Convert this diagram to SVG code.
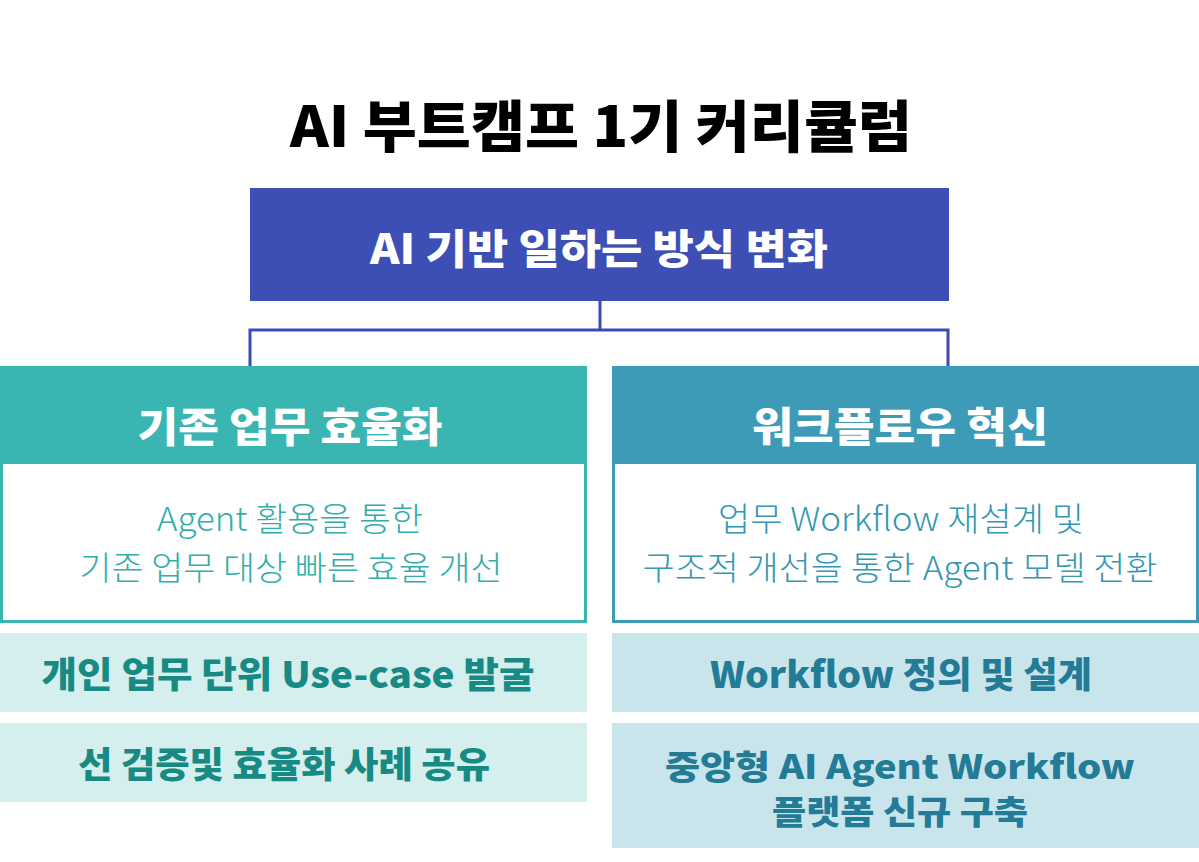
<svg xmlns="http://www.w3.org/2000/svg" width="1199" height="862" viewBox="0 0 1199 862">
<style>
.k{font-family:"Noto Sans CJK KR","Noto Sans",sans-serif;text-anchor:middle}
.title{font-size:56px;font-weight:900;fill:#000}
.hd{font-size:41px;font-weight:900;fill:#fff}
.sub{font-size:33px;font-weight:300}
.it{font-size:36px;font-weight:900}
.it2{font-size:33px;font-weight:900}
.conn{fill:none;stroke:#3d4bb0;stroke-width:3}
</style>
<rect width="1199" height="862" fill="#fff"/>
<text class="k title" x="601" y="147" textLength="622" lengthAdjust="spacingAndGlyphs">AI 부트캠프 1기 커리큘럼</text>
<g id="root">
<rect x="250" y="188" width="699" height="113" fill="#3d4fb5"/>
<text class="k hd" x="599" y="264" textLength="458" lengthAdjust="spacingAndGlyphs">AI 기반 일하는 방식 변화</text>
</g>
<g id="connectors">
<path class="conn" d="M600 301V330M250 366V330H948V366"/>
</g>
<g id="left">
<rect x="1.5" y="367.5" width="584" height="254" fill="#fff" stroke="#3bb5b1" stroke-width="3"/>
<rect x="0" y="366" width="587" height="98" fill="#3bb5b1"/>
<text class="k hd" x="290" y="442" textLength="305" lengthAdjust="spacingAndGlyphs">기존 업무 효율화</text>
<text class="k sub" x="290" y="531" fill="#33aea9" textLength="266" lengthAdjust="spacingAndGlyphs">Agent 활용을 통한</text>
<text class="k sub" x="291" y="580" fill="#33aea9" textLength="423" lengthAdjust="spacingAndGlyphs">기존 업무 대상 빠른 효율 개선</text>
</g>
<g id="right">
<rect x="613.5" y="367.5" width="584" height="254" fill="#fff" stroke="#3d9bb8" stroke-width="3"/>
<rect x="612" y="366" width="587" height="98" fill="#3d9bb8"/>
<text class="k hd" x="900" y="442" textLength="296" lengthAdjust="spacingAndGlyphs">워크플로우 혁신</text>
<text class="k sub" x="901" y="531" fill="#3497b3" textLength="366" lengthAdjust="spacingAndGlyphs">업무 Workflow 재설계 및</text>
<text class="k sub" x="900" y="580" fill="#3497b3" textLength="515" lengthAdjust="spacingAndGlyphs">구조적 개선을 통한 Agent 모델 전환</text>
</g>
<g id="l1">
<rect x="0" y="633" width="587" height="79" fill="#d4efee"/>
<text class="k it" x="288" y="688" fill="#178a84" textLength="493" lengthAdjust="spacingAndGlyphs">개인 업무 단위 Use-case 발굴</text>
</g>
<g id="l2">
<rect x="0" y="723" width="587" height="79" fill="#d4efee"/>
<text class="k it" x="284" y="778" fill="#178a84" textLength="412" lengthAdjust="spacingAndGlyphs">선 검증및 효율화 사례 공유</text>
</g>
<g id="r1">
<rect x="612" y="633" width="587" height="79" fill="#c9e5ec"/>
<text class="k it" x="901" y="688" fill="#237b96" textLength="382" lengthAdjust="spacingAndGlyphs">Workflow 정의 및 설계</text>
</g>
<g id="r2">
<rect x="612" y="723" width="587" height="125" fill="#c9e5ec"/>
<text class="k it2" x="900" y="779" fill="#237b96" textLength="470" lengthAdjust="spacingAndGlyphs">중앙형 AI Agent Workflow</text>
<text class="k it2" x="900" y="824" fill="#237b96" textLength="256" lengthAdjust="spacingAndGlyphs">플랫폼 신규 구축</text>
</g>
</svg>
